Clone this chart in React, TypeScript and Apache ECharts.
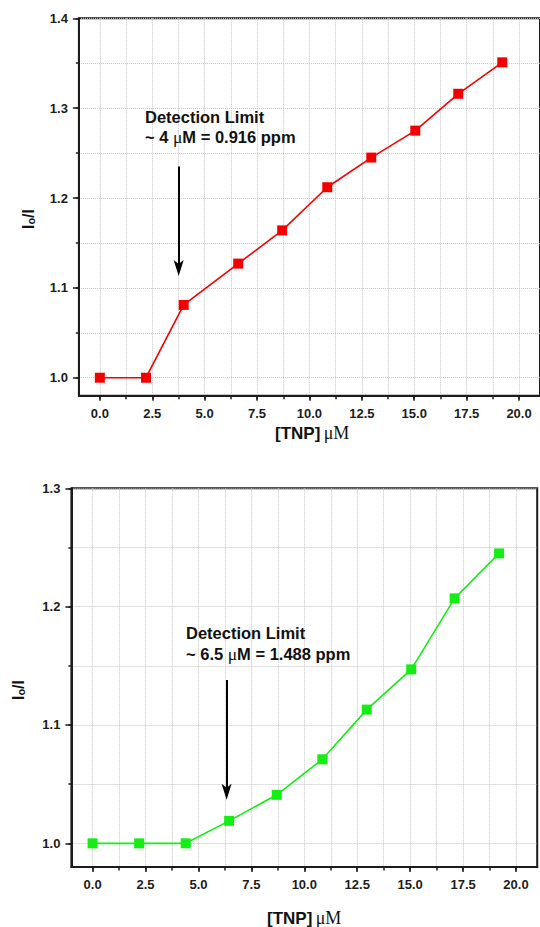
import React, { useEffect, useRef } from "react";
import * as echarts from "echarts";

// ---- data ----
const topX = [0, 2.2, 4.0, 6.6, 8.7, 10.85, 12.95, 15.05, 17.1, 19.2];
const topY = [1.0, 1.0, 1.081, 1.127, 1.164, 1.212, 1.245, 1.275, 1.316, 1.351];
const botX = [0, 2.2, 4.4, 6.45, 8.7, 10.85, 12.95, 15.05, 17.1, 19.2];
const botY = [1.0, 1.0, 1.0, 1.019, 1.041, 1.071, 1.113, 1.147, 1.207, 1.245];

const xMajorTicks = [0, 2.5, 5, 7.5, 10, 12.5, 15, 17.5, 20];
const xMinorTicks = [0, 1.25, 2.5, 3.75, 5, 6.25, 7.5, 8.75, 10, 11.25, 12.5, 13.75, 15, 16.25, 17.5, 18.75, 20];
const topYMajor = [1.0, 1.1, 1.2, 1.3, 1.4];
const topYMinor = [1.0, 1.05, 1.1, 1.15, 1.2, 1.25, 1.3, 1.35, 1.4];
const botYMajor = [1.0, 1.1, 1.2, 1.3];
const botYMinor = [1.0, 1.05, 1.1, 1.15, 1.2, 1.25, 1.3];

const xRange = [-1, 21];
const topYRange = [0.98, 1.4];
const botYRange = [0.98, 1.3];

// arrows: [x, shaft top y, arrow-head centre y]
const topArrow = [3.76, 1.235, 1.122];
const botArrow = [6.33, 1.138, 1.0435];

const topNote1 = "Detection Limit";
const topNote2 = "~ 4 {mu|μ}M = 0.916 ppm";
const botNote1 = "Detection Limit";
const botNote2 = "~ 6.5 {mu|μ}M = 1.488 ppm";
const xTitle = "{a|[TNP]} {b|μM}";
const yTitle = "I{s|o}/I";

const AXIS = "#1c1c1c";
const SANS = '"Liberation Sans", Arial, sans-serif';
const SERIF = '"Liberation Serif", "Times New Roman", serif';
const RED = "#f50000";
const GREEN = "#14ee14";
const GRIDC = "#c4c4c4";
const ARROW_HEAD = "path://M0,0 L5,4 L10,0 L5,16 Z";

const fmt = (v: number) => v.toFixed(1);

function mainX(gridIndex: number) {
  return {
    type: "value",
    gridIndex,
    position: "bottom",
    min: xRange[0],
    max: xRange[1],
    axisLine: { show: true, onZero: false, lineStyle: { color: AXIS, width: 2 } },
    axisTick: { show: true, inside: false, length: 5, customValues: xMajorTicks, lineStyle: { color: AXIS, width: 1.5 } },
    axisLabel: {
      customValues: xMajorTicks,
      formatter: fmt,
      margin: 11,
      color: AXIS,
      fontSize: 13,
      fontWeight: "bold",
      fontFamily: SANS,
    },
    splitLine: { show: false },
  };
}

function minorX(gridIndex: number) {
  return {
    type: "value",
    gridIndex,
    position: "bottom",
    min: xRange[0],
    max: xRange[1],
    axisLine: { show: false, onZero: false },
    axisTick: { show: true, inside: false, length: 3.5, customValues: xMinorTicks, lineStyle: { color: AXIS, width: 1.5 } },
    axisLabel: { show: false },
    splitLine: { show: true, lineStyle: { type: "dotted", color: GRIDC, width: 1 } },
  };
}

function mainY(gridIndex: number, range: number[], major: number[]) {
  return {
    type: "value",
    gridIndex,
    position: "left",
    min: range[0],
    max: range[1],
    axisLine: { show: true, onZero: false, lineStyle: { color: AXIS, width: 2 } },
    axisTick: { show: true, inside: false, length: 6, customValues: major, lineStyle: { color: AXIS, width: 1.5 } },
    axisLabel: {
      customValues: major,
      formatter: fmt,
      margin: 11,
      color: AXIS,
      fontSize: 13,
      fontWeight: "bold",
      fontFamily: SANS,
    },
    splitLine: { show: false },
  };
}

function minorY(gridIndex: number, range: number[], minor: number[]) {
  return {
    type: "value",
    gridIndex,
    position: "left",
    min: range[0],
    max: range[1],
    axisLine: { show: false, onZero: false },
    axisTick: { show: true, inside: false, length: 3, customValues: minor, lineStyle: { color: AXIS, width: 1.5 } },
    axisLabel: { show: false },
    splitLine: { show: true, lineStyle: { type: "dotted", color: GRIDC, width: 1 } },
  };
}

function arrowShaft(a: number[]) {
  return {
    silent: true,
    symbol: ["none", "none"],
    lineStyle: { color: "#000", width: 2, type: "solid" },
    label: { show: false },
    emphasis: { disabled: true },
    data: [[{ coord: [a[0], a[1]] }, { coord: [a[0], a[2]] }]],
  };
}

function arrowHead(a: number[]) {
  return {
    silent: true,
    symbol: ARROW_HEAD,
    symbolSize: [10, 16],
    itemStyle: { color: "#000" },
    label: { show: false },
    emphasis: { disabled: true },
    data: [{ coord: [a[0], a[2]] }],
  };
}

function lineSeries(xs: number[], ys: number[], color: string, idx: number, arrow: number[]) {
  return {
    type: "line",
    xAxisIndex: idx,
    yAxisIndex: idx,
    data: xs.map((x, i) => [x, ys[i]]),
    symbol: "rect",
    symbolSize: 10,
    itemStyle: { color },
    lineStyle: { color, width: 1.6 },
    emphasis: { disabled: true },
    markLine: arrowShaft(arrow),
    markPoint: arrowHead(arrow),
    z: 5,
  };
}

function noteText(x: number, y: number, text: string) {
  return {
    type: "text",
    x,
    y,
    z: 10,
    style: {
      text,
      fill: "#111",
      fontSize: 16.5,
      fontWeight: "bold",
      fontFamily: SANS,
      verticalAlign: "middle",
      rich: { mu: { fontFamily: SERIF, fontWeight: "normal", fontSize: 17.5, fill: "#111" } },
    },
  };
}

function xTitleText(x: number, y: number) {
  return {
    type: "text",
    x,
    y,
    z: 10,
    style: {
      text: xTitle,
      fill: "#111",
      verticalAlign: "middle",
      rich: {
        a: { fontSize: 17, fontWeight: "bold", fontFamily: SANS, fill: "#111" },
        b: { fontSize: 18, fontWeight: "normal", fontFamily: SERIF, fill: "#111" },
      },
    },
  };
}

function yTitleText(x: number, y: number) {
  return {
    type: "text",
    x,
    y,
    z: 10,
    rotation: Math.PI / 2,
    style: {
      text: yTitle,
      fill: "#111",
      fontSize: 16,
      fontWeight: "bold",
      fontFamily: SANS,
      align: "center",
      verticalAlign: "middle",
      rich: { s: { fontSize: 11, fontWeight: "bold", fontFamily: SANS, verticalAlign: "bottom", fill: "#111" } },
    },
  };
}

export default function App() {
  const ref = useRef<HTMLDivElement>(null);
  useEffect(() => {
    if (!ref.current) return;
    const chart = echarts.init(ref.current, null, { renderer: "svg" });
    chart.setOption({
      animation: false,
      backgroundColor: "#ffffff",
      grid: [
        { left: 78.9, top: 18.3, width: 463.6, height: 377.4, show: true, borderColor: AXIS, borderWidth: 2, backgroundColor: "transparent" },
        { left: 71.4, top: 488.3, width: 465.8, height: 378.7, show: true, borderColor: AXIS, borderWidth: 2, backgroundColor: "transparent" },
      ],
      xAxis: [mainX(0), mainX(1), minorX(0), minorX(1)],
      yAxis: [
        mainY(0, topYRange, topYMajor),
        mainY(1, botYRange, botYMajor),
        minorY(0, topYRange, topYMinor),
        minorY(1, botYRange, botYMinor),
      ],
      series: [lineSeries(topX, topY, RED, 0, topArrow), lineSeries(botX, botY, GREEN, 1, botArrow)],
      graphic: [
        noteText(145, 116.7, topNote1),
        noteText(145, 136.7, topNote2),
        noteText(186, 633.3, botNote1),
        noteText(186, 654, botNote2),
        xTitleText(275, 433),
        xTitleText(267, 918),
        yTitleText(28, 219),
        yTitleText(18.5, 690),
      ],
    });
    return () => chart.dispose();
  }, []);
  return <div ref={ref} style={{ position: "absolute", left: 0, top: 0, width: 540, height: 927 }} />;
}
